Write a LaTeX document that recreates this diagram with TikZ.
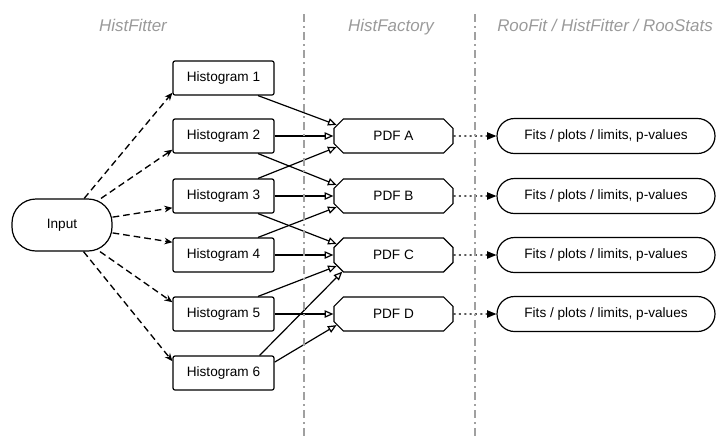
\documentclass[tikz,border=0pt]{standalone}
\usepackage{fontspec}
\setmainfont{Liberation Sans}
\usetikzlibrary{arrows.meta,shapes.misc}

\definecolor{divgray}{HTML}{A0A0A0}
\definecolor{titlegray}{HTML}{9A9A9A}

\tikzset{
  boxtext/.style={font=\fontsize{10.2}{12}\selectfont},
  inbox/.style={boxtext, draw, line width=0.9pt, rounded corners=18pt, minimum width=75pt, minimum height=39pt, inner sep=0pt},
  histbox/.style={boxtext, draw, line width=0.9pt, rounded corners=1.5pt, minimum width=75.75pt, minimum height=25.5pt, inner sep=0pt},
  pdfbox/.style={boxtext, draw, line width=0.9pt, chamfered rectangle, chamfered rectangle xsep=5pt, minimum width=89.25pt, minimum height=25.5pt, inner sep=0pt},
  fitbox/.style={boxtext, draw, line width=0.9pt, rounded rectangle, minimum width=163.5pt, minimum height=26.25pt, inner sep=0pt},
  title/.style={font=\fontsize{12.7}{15}\selectfont\itshape, text=titlegray, anchor=base},
  inarrow/.style={line width=1pt, dash pattern=on 5pt off 3pt, -{Stealth[length=6pt,width=5pt]}},
  feed/.style={line width=0.9pt, -{Triangle[open,length=6.5pt,width=5.5pt]}},
  result/.style={line width=0.9pt, dash pattern=on 1.5pt off 2.5pt, -{Triangle[length=7pt,width=5.5pt]}},
  divider/.style={divgray, line width=1.4pt, dash pattern=on 6pt off 3pt on 1.5pt off 3pt}
}

\begin{document}
\begin{tikzpicture}[x=0.75pt, y=-0.75pt]
    \useasboundingbox (0,0) rectangle (716,440);

    % Column titles
    \node[title] (t1) at (133,31) {HistFitter};
    \node[title] (t2) at (391,31) {HistFactory};
    \node[title] (t3) at (605,31) {RooFit / HistFitter / RooStats};

    \node[inbox] (in) at (62,225) {Input};

    \foreach \i/\y in {1/78,2/136,3/196,4/255,5/314,6/373}
        \node[histbox] (h\i) at (223.5,\y) {Histogram \i};

    \foreach \p/\y in {A/136,B/196,C/255,D/314} {
        \node[pdfbox] (pdf\p) at (393.5,\y) {PDF \p};
        \node[fitbox] (fit\p) at (606,\y) {Fits / plots / limits, p-values};
    }

    % Input to histograms
    \foreach \h/\a in {h1/196,h2/195,h3/193,h4/166,h5/167,h6/167}
        \draw[inarrow] (in) -- (\h.\a);

    % Histograms into the PDFs
    \draw[feed] (h1.-27) -- (pdfA.169);
    \draw[feed] (h2.east) -- (pdfA.west);
    \draw[feed] (h3.27) -- (pdfA.191);

    \draw[feed] (h2.-27) -- (pdfB.169);
    \draw[feed] (h3.east) -- (pdfB.west);
    \draw[feed] (h4.27) -- (pdfB.191);

    \draw[feed] (h3.-27) -- (pdfC.169);
    \draw[feed] (h4.east) -- (pdfC.west);
    \draw[feed] (h5.27) -- (pdfC.191);
    \draw[feed] (h6.26) -- (pdfC.198);

    \draw[feed] (h5.east) -- (pdfD.west);
    \draw[feed] (h6.12) -- (pdfD.191);

    % PDFs to fits
    \foreach \p in {A,B,C,D}
        \draw[result] (pdf\p) -- (fit\p);

    % Column dividers
    \coordinate (d1t) at (304,14); \coordinate (d1b) at (304,440);
    \coordinate (d2t) at (475,14); \coordinate (d2b) at (475,440);
    \draw[divider] (d1t) -- (d1b);
    \draw[divider] (d2t) -- (d2b);
\end{tikzpicture}
\end{document}
